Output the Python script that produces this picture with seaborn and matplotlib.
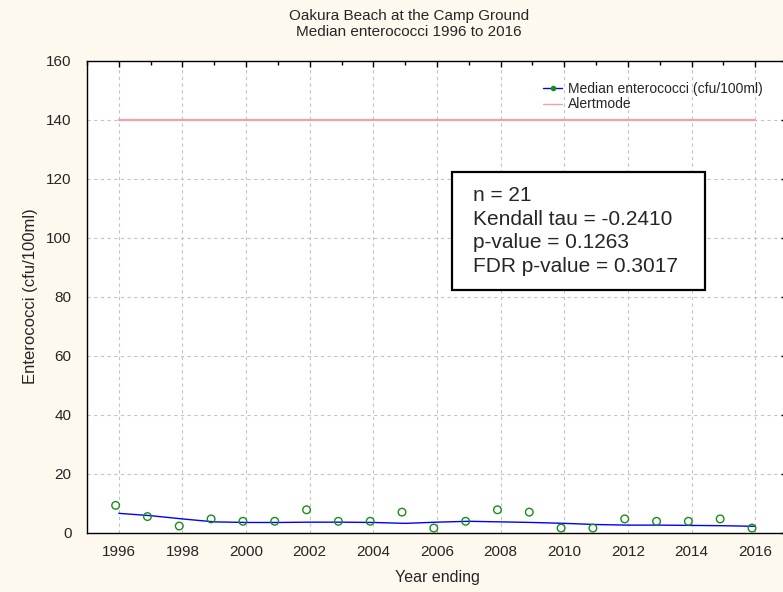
import numpy as np
import pandas as pd
import seaborn as sns
import matplotlib.pyplot as plt
from matplotlib.lines import Line2D
from matplotlib.patches import Rectangle
from matplotlib.ticker import MultipleLocator

# data
years = [1996, 1997, 1998, 1999, 2000, 2001, 2002, 2003, 2004, 2005, 2006,
         2007, 2008, 2009, 2010, 2011, 2012, 2013, 2014, 2015, 2016]
sample_x = [y - 0.1 for y in years]
median_ent = [9.2, 5.4, 2.2, 4.6, 3.8, 3.8, 7.7, 3.8, 3.8, 6.9, 1.5,
              3.8, 7.7, 6.9, 1.5, 1.5, 4.6, 3.8, 3.8, 4.6, 1.5]
smooth_ent = [6.5, 5.7, 4.6, 3.6, 3.4, 3.4, 3.5, 3.5, 3.4, 3.1, 3.5,
              3.8, 3.6, 3.4, 3.1, 2.7, 2.5, 2.5, 2.4, 2.3, 2.1]
alert_x = [1996, 2016]
alert_y = [140, 140]

stats_lines = ["n = 21", "Kendall tau = -0.2410", "p-value = 0.1263", "FDR p-value = 0.3017"]

pts = pd.DataFrame({"x": sample_x, "y": median_ent})
smooth = pd.DataFrame({"x": years, "y": smooth_ent})
alert = pd.DataFrame({"x": alert_x, "y": alert_y})

sns.set_style("white")
plt.rcParams['font.family'] = ['Liberation Sans', 'DejaVu Sans']

bg = "#fdf9ee"
fig = plt.figure(figsize=(7.83, 5.92), dpi=100, facecolor=bg)
ax = fig.add_axes([87 / 783, 59.5 / 592, 700 / 783, 472 / 592])
ax.set_facecolor("white")

sns.lineplot(data=alert, x="x", y="y", ax=ax, color="#f4a0a8", lw=1.6)
sns.lineplot(data=smooth, x="x", y="y", ax=ax, color="#0000ff", lw=1.0)
sns.scatterplot(data=pts, x="x", y="y", ax=ax, marker="o", s=30,
                facecolor="none", edgecolor="#1a8c1a", linewidth=1.0, zorder=5)

ax.set_xlim(1995, 2017)
ax.set_ylim(0, 160)
ax.xaxis.set_major_locator(MultipleLocator(2))
ax.xaxis.set_minor_locator(MultipleLocator(1))
ax.yaxis.set_major_locator(MultipleLocator(20))
ax.yaxis.set_minor_locator(MultipleLocator(4))
ax.tick_params(which="both", direction="in", top=True, right=True, color="black", labelsize=11)
ax.tick_params(which="major", length=4, width=1)
ax.tick_params(axis="x", which="major", pad=9)
ax.tick_params(axis="y", which="major", pad=11)
ax.tick_params(which="minor", length=3, width=1)
ax.grid(True, which="major", linestyle=(0, (3, 3)), color="#c4c4c4", lw=0.8)
for s in ax.spines.values():
    s.set_color("black")
    s.set_linewidth(1.0)

ax.set_xlabel("Year ending", fontsize=11.5, labelpad=8)
ax.set_ylabel("Enterococci (cfu/100ml)", fontsize=12, labelpad=6)

fig.text(409 / 783, 1 - 24 / 592, "Oakura Beach at the Camp Ground\nMedian enterococci 1996 to 2016",
         ha="center", va="center", fontsize=11, linespacing=1.15)

handles = [Line2D([], [], color="#0000ff", lw=1, marker="o", markersize=3,
                  markerfacecolor="#1a8c1a", markeredgecolor="#1a8c1a"),
           Line2D([], [], color="#f4a0a8", lw=1)]
ax.legend(handles, ["Median enterococci (cfu/100ml)", "Alertmode"], loc="upper left",
          bbox_to_anchor=((543 - 87) / 700, (532.5 - 82) / 472), frameon=False,
          fontsize=10, handlelength=1.4, handletextpad=0.4, labelspacing=0.1,
          borderpad=0, borderaxespad=0)

# stats box
fig.patches.append(Rectangle((452 / 783, 1 - 290 / 592), 253 / 783, 118 / 592,
                             transform=fig.transFigure, facecolor="white",
                             edgecolor="black", lw=1.6, zorder=3))
fig.text(473 / 783, 1 - 186 / 592, "\n".join(stats_lines), ha="left", va="top",
         fontsize=15, linespacing=1.3, zorder=4)

fig.savefig("out.png", dpi=100, facecolor=bg)
